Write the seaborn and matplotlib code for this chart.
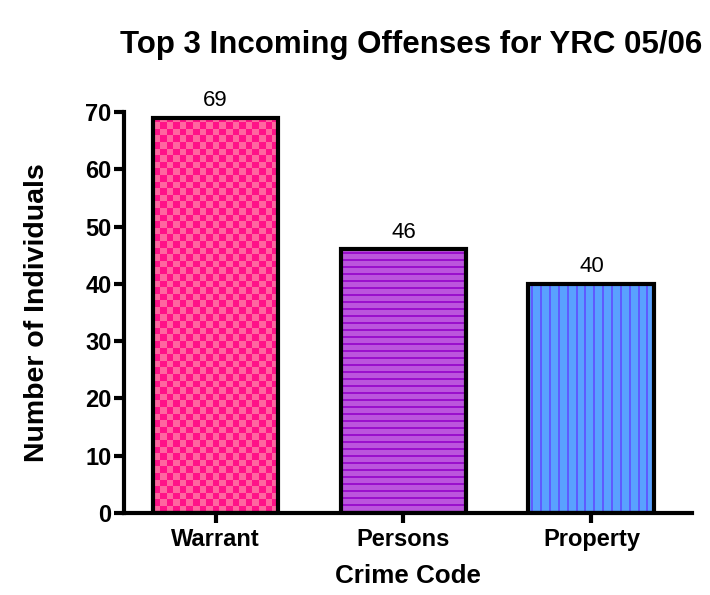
import numpy as np
import matplotlib
matplotlib.use("Agg")
import matplotlib.pyplot as plt
import seaborn as sns

categories = ["Warrant", "Persons", "Property"]
values = [69, 46, 40]
yticks = [0, 10, 20, 30, 40, 50, 60, 70]
title = "Top 3 Incoming Offenses for YRC 05/06"

base_colors = ["#FF1288", "#BB55DD", "#59A1FF"]
accent_colors = ["#FF66A0", "#9A10CC", "#5E5BFF"]

sns.set_style("white")
plt.rcParams["font.family"] = ["Liberation Sans", "DejaVu Sans"]
plt.rcParams["text.color"] = "black"
plt.rcParams["axes.labelcolor"] = "black"
plt.rcParams["xtick.color"] = "black"
plt.rcParams["ytick.color"] = "black"

fig = plt.figure(figsize=(7.1, 5.95), dpi=100)
ax = fig.add_axes([124 / 710, 1 - 513 / 595, (692 - 124) / 710, (513 - 112) / 595])

sns.barplot(x=categories, y=values, hue=categories, palette=base_colors,
            legend=False, width=0.67, saturation=1, ax=ax)

ax.set_xlim(-0.487, 2.535)
ax.set_ylim(0, 70)
ax.set_yticks(yticks)
fig.canvas.draw()


def hex2rgb(h):
    h = h.lstrip("#")
    return np.array([int(h[i:i + 2], 16) / 255 for i in (0, 2, 4)])


for i, p in enumerate(ax.patches):
    x0, y0, w, h = p.get_x(), p.get_y(), p.get_width(), p.get_height()
    px0, py0 = ax.transData.transform((x0, y0))
    px1, py1 = ax.transData.transform((x0 + w, y0 + h))
    nx, ny = int(round(px1 - px0)), int(round(py1 - py0))
    b, a = hex2rgb(base_colors[i]), hex2rgb(accent_colors[i])
    jj, ii = np.meshgrid(np.arange(nx), np.arange(ny))
    if i == 0:
        mask = ((jj // 6.6).astype(int) + (ii // 6.6).astype(int)) % 2 == 0
    elif i == 1:
        mask = (ii % 7) < 2
    else:
        mask = ((jj + 6) % 8.85) < 2
    arr = np.where(mask[..., None], a, b)
    im = ax.imshow(arr[::-1], extent=(x0, x0 + w, y0, y0 + h), origin="upper",
                   interpolation="nearest", aspect="auto", zorder=2.5)
    im.set_clip_path(p)
    p.set_facecolor("none")
    p.set_edgecolor("black")
    p.set_linewidth(3)
    p.set_zorder(3)
    ax.text(i, values[i] + 1.2, str(values[i]), ha="center", va="bottom",
            fontsize=16, color="black")

ax.set_xlim(-0.487, 2.535)
ax.set_ylim(0, 70)
ax.set_aspect("auto")

for s in ["top", "right"]:
    ax.spines[s].set_visible(False)
for s in ["left", "bottom"]:
    ax.spines[s].set_linewidth(3)
    ax.spines[s].set_color("black")

ax.tick_params(axis="both", which="major", length=7, width=3, color="black",
               direction="out", labelsize=17, labelcolor="black")
ax.tick_params(axis="x", bottom=True, pad=4)
ax.tick_params(axis="y", left=True, pad=2)
for lab in ax.get_xticklabels() + ax.get_yticklabels():
    lab.set_fontweight("bold")

ax.set_xlabel("Crime Code", fontsize=18.7, fontweight="bold", labelpad=9)
ax.set_ylabel("Number of Individuals", fontsize=20.5, fontweight="bold", labelpad=25)
fig.text(411 / 710, 1 - 45 / 595, title, ha="center", va="center",
         fontsize=22.5, fontweight="bold", color="black")

fig.savefig("out.png", dpi=100)
